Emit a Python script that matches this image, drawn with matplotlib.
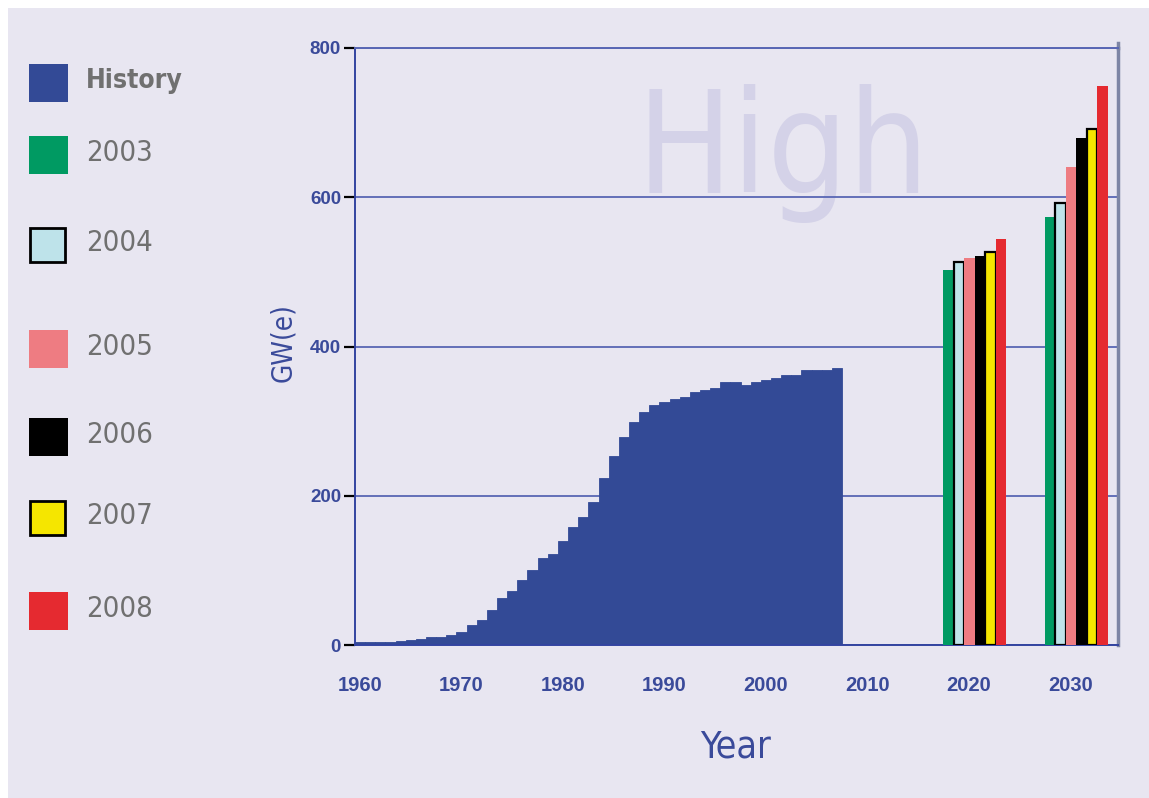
import matplotlib
matplotlib.use("Agg")
import matplotlib.pyplot as plt
from matplotlib.patches import Rectangle

# installed capacity history, GW(e)
hist_years = list(range(1960, 2008))
hist_gw = [4, 4, 4, 4, 5, 7, 8, 11, 11, 14,
           17, 27, 33, 47, 63, 73, 87, 100, 116, 122,
           139, 158, 171, 191, 224, 253, 279, 299, 312, 322,
           325, 329, 332, 339, 342, 345, 352, 352, 348, 352,
           355, 358, 362, 362, 368, 368, 368, 371]

# high projections by edition
proj_groups = [2020, 2030]
proj_labels = ["2003", "2004", "2005", "2006", "2007", "2008"]
proj_2020 = [502, 513, 518, 521, 527, 544]
proj_2030 = [574, 592, 640, 679, 691, 749]

hist_color = "#334A96"
proj_colors = ["#009A62", "#BEE3EA", "#EE7C82", "#000000", "#F5E600", "#E52A30"]
proj_edges = [None, "black", None, None, "black", None]

bg = "#E8E6F1"
blue = "#3A4A9A"
W, H = 1149, 798

fig = plt.figure(figsize=(W / 100, H / 100), dpi=100)
fig.patch.set_facecolor("white")
fig.add_artist(Rectangle((8 / W, 0), 1 - 8 / W, 1 - 8 / H, transform=fig.transFigure,
                         facecolor=bg, edgecolor="none", zorder=-10))

ax = fig.add_axes([355 / W, (H - 645) / H, (1118 - 355) / W, (645 - 48) / H])
ax.set_facecolor("none")

ax.bar(hist_years, hist_gw, width=1.0, color=hist_color, edgecolor=hist_color,
       linewidth=0.6, zorder=2)

bw = 1.03
for i, lab in enumerate(proj_labels):
    xs = [g - 2.5 + bw * (i + 0.5) for g in proj_groups]
    vals = [proj_2020[i], proj_2030[i]]
    if proj_edges[i]:
        ax.bar(xs, vals, width=bw, color=proj_colors[i], edgecolor=proj_edges[i],
               linewidth=1.6, zorder=3)
    else:
        ax.bar(xs, vals, width=bw, color=proj_colors[i], linewidth=0, zorder=3)

ax.set_xlim(1959.5, 2034.7)
ax.set_ylim(0, 800)
ax.set_yticks([0, 200, 400, 600, 800])
ax.set_xticks([1960, 1970, 1980, 1990, 2000, 2010, 2020, 2030])
ax.set_axisbelow(True)
ax.grid(axis="y", color="#5866B4", linewidth=1.3)
ax.grid(axis="x", visible=False)

ax.tick_params(axis="y", length=8, width=1.6, color="black", pad=2,
               labelsize=13.5, labelcolor=blue)
ax.tick_params(axis="x", length=0, pad=22, labelsize=14.5, labelcolor=blue)
for t in ax.get_xticklabels() + ax.get_yticklabels():
    t.set_fontfamily("Liberation Sans")
    t.set_fontweight("bold")

for s in ["left", "bottom", "top"]:
    ax.spines[s].set_color("#3344A0")
    ax.spines[s].set_linewidth(1.4)
ax.spines["top"].set_color("#5866B4")
ax.spines["right"].set_color("#7D85A5")
ax.spines["right"].set_linewidth(2.5)
ax.plot([1, 1], [1, 1.008], transform=ax.transAxes, color="#7D85A5",
        linewidth=2.5, clip_on=False)

# watermark, behind the axes (axes face is transparent)
fig.text(783 / W, 1 - 193 / H, "High", fontsize=102, color="#D4D2E8",
         family="DejaVu Sans", stretch="condensed",
         ha="center", va="baseline", zorder=-5)

fig.text(283 / W, 1 - 343 / H, "GW(e)", rotation=90, fontsize=20, color=blue,
         family="DejaVu Sans", stretch="condensed", ha="center", va="center")
fig.text(736 / W, 1 - 748 / H, "Year", fontsize=27, color=blue,
         family="DejaVu Sans", stretch="condensed", ha="center", va="center")

# legend
leg_labels = ["History"] + proj_labels
leg_colors = [hist_color] + proj_colors
leg_edges = [None] + proj_edges
leg_y = [83, 155, 245, 349, 437, 518, 611]
for lab, c, e, yc in zip(leg_labels, leg_colors, leg_edges, leg_y):
    if e:
        w, h = 35, 34
        fig.add_artist(Rectangle((30 / W, 1 - (yc + h / 2) / H), w / W, h / H,
                                 transform=fig.transFigure, facecolor=c,
                                 edgecolor=e, linewidth=2))
    else:
        w, h = 39, 38
        fig.add_artist(Rectangle((29 / W, 1 - (yc + h / 2) / H), w / W, h / H,
                                 transform=fig.transFigure, facecolor=c,
                                 edgecolor="none"))
    fig.text(86 / W, 1 - (yc - 2) / H, lab, fontsize=21 if lab != "History" else 19,
             fontweight="bold" if lab == "History" else "normal",
             color="#707070", family="DejaVu Sans", stretch="condensed",
             ha="left", va="center")

fig.savefig("out.png", dpi=100, facecolor=fig.get_facecolor())
